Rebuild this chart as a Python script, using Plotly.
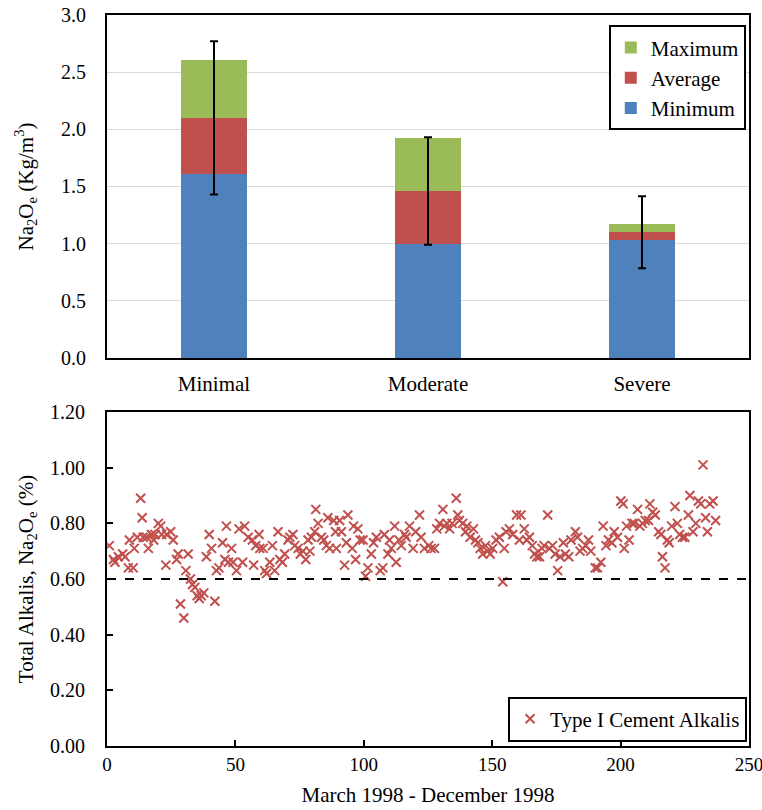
import plotly.graph_objects as go

# ---- Top panel: Na2Oe content by exposure class ----
categories = ["Minimal", "Moderate", "Severe"]
minimum = [1.61, 1.00, 1.03]
average = [2.10, 1.46, 1.10]
maximum = [2.61, 1.92, 1.17]
avg_error = [0.67, 0.47, 0.315]

# ---- Bottom panel: daily Type I cement alkali results ----
sample_no = [
    0.9, 2.5, 3.1, 4.4, 6.1, 7.0, 8.3, 8.7, 10.2, 10.6, 11.8, 13.1, 13.7, 14.1, 15.4,
    16.1, 17.4, 18.2, 18.7, 20.0, 20.9, 21.3, 22.9, 23.2, 24.8, 25.8, 27.1, 27.7, 28.6,
    29.9, 30.7, 31.6, 32.5, 33.3, 34.2, 35.1, 35.9, 36.7, 37.7, 38.7, 39.8, 40.7, 42.0,
    42.6, 43.6, 45.0, 45.9, 46.5, 47.3, 48.5, 49.1, 50.4, 51.4, 52.8, 53.6, 55.0, 56.6,
    57.1, 57.9, 59.2, 59.5, 60.8, 61.4, 62.1, 63.4, 64.4, 65.3, 66.6, 67.3, 68.3, 69.2,
    70.5, 71.2, 72.4, 73.1, 74.4, 75.3, 76.3, 77.4, 78.3, 79.0, 79.6, 80.9, 81.3, 82.2,
    83.5, 84.4, 85.4, 86.0, 86.7, 88.3, 89.0, 89.3, 90.6, 91.3, 92.5, 93.2, 93.8, 95.5,
    96.0, 96.8, 97.7, 98.6, 99.7, 100.7, 101.6, 102.9, 103.8, 104.9, 106.4, 107.4, 108.0,
    109.4, 110.0, 110.7, 112.0, 112.6, 113.7, 114.6, 115.9, 116.5, 117.8, 119.2, 120.2,
    121.7, 122.3, 123.6, 125.3, 126.2, 127.5, 128.4, 129.5, 130.8, 131.4, 132.3, 133.4,
    134.4, 136.0, 136.6, 137.2, 138.5, 139.6, 140.1, 141.4, 142.7, 143.5, 144.4, 145.3,
    146.3, 147.4, 148.2, 149.2, 150.2, 151.5, 152.8, 154.1, 154.7, 155.4, 156.7, 158.0,
    159.5, 160.6, 161.2, 162.5, 163.4, 164.5, 165.6, 166.5, 167.4, 168.4, 169.4, 170.2,
    171.6, 172.3, 173.5, 174.5, 175.5, 176.4, 177.7, 178.5, 179.8, 180.7, 182.4, 183.2,
    184.2, 185.2, 186.5, 187.5, 188.4, 190.1, 191.0, 192.3, 193.2, 194.3, 195.3, 196.6,
    197.5, 198.8, 200.1, 201.0, 201.4, 202.3, 203.3, 204.4, 205.3, 206.6, 207.5, 208.5,
    209.6, 210.9, 211.4, 212.5, 213.5, 214.8, 215.7, 216.3, 217.3, 218.2, 218.9, 219.9,
    221.2, 222.1, 223.0, 224.1, 225.0, 226.4, 227.0, 228.2, 229.3, 230.3, 231.2, 232.1,
    233.1, 233.8, 234.7, 236.0, 237.0,
]
alkalis = [
    0.72, 0.67, 0.66, 0.68, 0.69, 0.68, 0.64, 0.74, 0.64, 0.71, 0.75, 0.89, 0.82, 0.75, 0.75,
    0.71, 0.76, 0.74, 0.76, 0.80, 0.79, 0.76, 0.65, 0.76, 0.77, 0.74, 0.67, 0.69, 0.51,
    0.46, 0.63, 0.69, 0.60, 0.58, 0.57, 0.54, 0.53, 0.54, 0.55, 0.68, 0.76, 0.71, 0.52,
    0.63, 0.64, 0.73, 0.67, 0.79, 0.66, 0.71, 0.66, 0.63, 0.78, 0.66, 0.79, 0.75, 0.74,
    0.65, 0.72, 0.76, 0.71, 0.71, 0.63, 0.62, 0.66, 0.72, 0.63, 0.77, 0.67, 0.66, 0.69,
    0.74, 0.75, 0.76, 0.72, 0.71, 0.69, 0.70, 0.67, 0.74, 0.70, 0.75, 0.77, 0.85, 0.80,
    0.75, 0.74, 0.72, 0.82, 0.71, 0.81, 0.77, 0.71, 0.81, 0.77, 0.65, 0.73, 0.83, 0.71,
    0.79, 0.67, 0.78, 0.74, 0.74, 0.61, 0.64, 0.69, 0.73, 0.75, 0.63, 0.64, 0.76,
    0.69, 0.74, 0.71, 0.79, 0.66, 0.74, 0.72, 0.76, 0.75, 0.79, 0.71, 0.77,
    0.83, 0.75, 0.71, 0.72, 0.71, 0.71, 0.78, 0.80, 0.85, 0.79, 0.80, 0.78,
    0.80, 0.89, 0.83, 0.81, 0.80, 0.77, 0.79, 0.75, 0.78, 0.74, 0.73, 0.71,
    0.69, 0.72, 0.70, 0.69, 0.71, 0.74, 0.75, 0.59, 0.71, 0.77, 0.78, 0.76,
    0.83, 0.74, 0.83, 0.78, 0.74, 0.75, 0.72, 0.69, 0.68, 0.68, 0.71, 0.72,
    0.83, 0.71, 0.72, 0.69, 0.63, 0.68, 0.73, 0.69, 0.68, 0.74, 0.77, 0.75,
    0.70, 0.71, 0.72, 0.74, 0.70, 0.64, 0.64, 0.66, 0.79, 0.72, 0.74, 0.73,
    0.77, 0.75, 0.88, 0.87, 0.71, 0.79, 0.74, 0.80, 0.80, 0.85, 0.79, 0.80,
    0.81, 0.81, 0.87, 0.84, 0.83, 0.77, 0.76, 0.68, 0.64, 0.74, 0.73, 0.79,
    0.86, 0.80, 0.76, 0.75, 0.75, 0.83, 0.90, 0.77, 0.80, 0.88, 0.87, 1.01,
    0.82, 0.77, 0.87, 0.88, 0.81,
]
LIMIT = 0.60

BLUE, RED, GREEN = "#4F81BD", "#C0504D", "#9BBB59"
FONT = '"Liberation Serif", "Times New Roman", Times, serif'

# stacked segments: minimum, then increment to average, then increment to maximum
seg_avg = [a - m for a, m in zip(average, minimum)]
seg_max = [x - a for x, a in zip(maximum, average)]

fig = go.Figure()
fig.add_trace(go.Bar(x=categories, y=minimum, name="Minimum", marker_color=BLUE,
                     width=0.31, legendgroup="g1", xaxis="x", yaxis="y"))
fig.add_trace(go.Bar(x=categories, y=seg_avg, name="Average", marker_color=RED,
                     width=0.31, legendgroup="g2", xaxis="x", yaxis="y"))
fig.add_trace(go.Bar(x=categories, y=seg_max, name="Maximum", marker_color=GREEN,
                     width=0.31, legendgroup="g3", xaxis="x", yaxis="y"))
for tr in fig.data:
    tr.marker.line.width = 0

# error bars about the average, drawn above the stacked bars
fig.add_trace(go.Scatter(x=categories, y=average, mode="markers", showlegend=False,
                         marker=dict(size=1, opacity=0), hoverinfo="skip",
                         xaxis="x", yaxis="y",
                         error_y=dict(type="data", array=avg_error, visible=True,
                                      color="black", thickness=2, width=4)))

fig.add_trace(go.Scatter(x=sample_no, y=alkalis, mode="markers",
                         name="Type I Cement Alkalis", xaxis="x2", yaxis="y2",
                         legend="legend2",
                         marker=dict(symbol="x-thin-open", size=9,
                                     line=dict(color=RED, width=2), color=RED)))

fig.add_shape(type="line", xref="x2 domain", yref="y2", x0=0, x1=1,
              y0=LIMIT, y1=LIMIT, line=dict(color="black", width=2, dash="dash"))

tickfont = dict(family=FONT, size=20, color="black")
titlefont = dict(family=FONT, size=21, color="black")
legfont = dict(family=FONT, size=21, color="black")
frame = dict(showline=True, mirror=True, linecolor="black", linewidth=2,
             automargin=False)

fig.update_layout(
    width=762, height=810,
    margin=dict(l=107, r=13, t=15, b=64, autoexpand=False),
    paper_bgcolor="white", plot_bgcolor="white",
    barmode="stack",
    font=dict(family=FONT, size=20, color="black"),
    xaxis=dict(domain=[0, 1], anchor="y", type="category", ticks="",
               tickfont=dict(family=FONT, size=21, color="black"),
               ticklabelstandoff=6, **frame),
    yaxis=dict(domain=[0.5308, 1], anchor="x", range=[0, 3], dtick=0.5,
               tickformat=".1f", ticks="", showgrid=True, gridcolor="#D9D9D9",
               gridwidth=1, zeroline=False, tickfont=tickfont, ticklabelstandoff=15,
               title=dict(text="Na<sub>2</sub>O<sub>e</sub> (Kg/m<sup>3</sup>)",
                          font=titlefont, standoff=22),
               **frame),
    xaxis2=dict(domain=[0, 1], anchor="y2", range=[0, 250], dtick=50,
                ticks="inside", ticklen=6, tickwidth=2, tickcolor="black",
                showgrid=False, zeroline=False,
                tickfont=dict(family=FONT, size=19, color="black"),
                ticklabeloverflow="allow",
                title=dict(text="March 1998 - December 1998", font=titlefont, standoff=14),
                **frame),
    yaxis2=dict(domain=[0, 0.4569], anchor="x2", range=[0, 1.2], dtick=0.2,
                tickformat=".2f", ticks="inside", ticklen=6, tickwidth=2,
                tickcolor="black", showgrid=False, zeroline=False, tickfont=tickfont,
                ticklabelstandoff=16,
                title=dict(text="Total Alkalis, Na<sub>2</sub>O<sub>e</sub> (%)",
                           font=titlefont, standoff=11),
                **frame),
    legend=dict(x=0.995, y=0.986, xanchor="right", yanchor="top",
                traceorder="reversed", tracegroupgap=14,
                bordercolor="black", borderwidth=2, bgcolor="white",
                font=legfont),
    legend2=dict(x=0.997, y=0.006, xanchor="right", yanchor="bottom",
                 bordercolor="black", borderwidth=2, bgcolor="white",
                 font=legfont),
)

fig.write_html("out.html")
